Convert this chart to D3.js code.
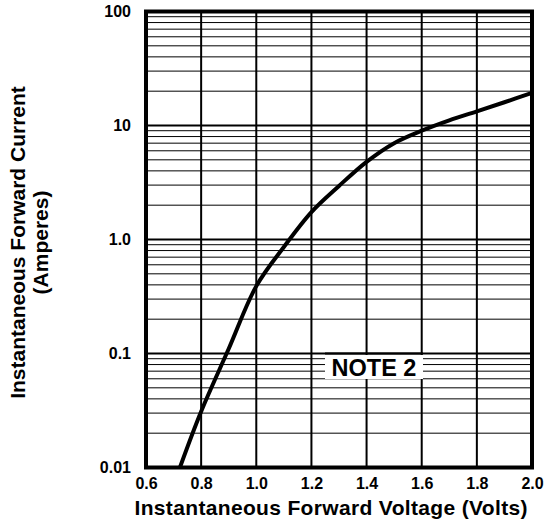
<!DOCTYPE html>
<html><head><meta charset="utf-8">
<script src="https://cdn.jsdelivr.net/npm/d3@7"></script>
<style>
html,body{margin:0;padding:0;background:#fff;}
text{font-family:"Liberation Sans",Arial,sans-serif;font-weight:bold;fill:#000;}
</style></head>
<body><svg id="c" width="544" height="525"></svg>
<script>
const voltage = [0.723, 0.8, 0.9, 1.0, 1.1, 1.2, 1.3, 1.4, 1.5, 1.6, 1.7, 1.8, 1.9, 2.0];
const current = [0.01, 0.031, 0.11, 0.39, 0.86, 1.74, 2.95, 4.8, 7.0, 9.0, 11.1, 13.3, 16.0, 19.3];
const xTicks = [0.6, 0.8, 1.0, 1.2, 1.4, 1.6, 1.8, 2.0];
const xTickLabels = ["0.6", "0.8", "1.0", "1.2", "1.4", "1.6", "1.8", "2.0"];
const yTicks = [0.01, 0.1, 1, 10, 100];
const yTickLabels = ["0.01", "0.1", "1.0", "10", "100"];
const xTitle = "Instantaneous Forward Voltage (Volts)";
const yTitle = ["Instantaneous Forward Current", "(Amperes)"];
const note = "NOTE 2";

const svg = d3.select("#c");
const L = 146, R = 532, T = 11.5, B = 467.5;
const x = d3.scaleLinear().domain([0.6, 2.0]).range([L, R]);
const y = d3.scaleLog().domain([0.01, 100]).range([B, T]);

// minor horizontal grid
const minor = [];
for (let d = 0.01; d < 100; d *= 10) {
  for (let k = 2; k <= 9; k++) minor.push(+(d * k).toPrecision(3));
}
const g = svg.append("g");
g.selectAll("line.minor").data(minor).join("line")
  .attr("x1", L).attr("x2", R)
  .attr("y1", d => y(d)).attr("y2", d => y(d))
  .attr("stroke", "#000").attr("stroke-width", 1);
g.selectAll("line.dec").data(yTicks.slice(1, -1)).join("line")
  .attr("x1", L).attr("x2", R)
  .attr("y1", d => y(d)).attr("y2", d => y(d))
  .attr("stroke", "#000").attr("stroke-width", 2);
g.selectAll("line.v").data(xTicks.slice(1, -1)).join("line")
  .attr("x1", d => x(d)).attr("x2", d => x(d))
  .attr("y1", T).attr("y2", B)
  .attr("stroke", "#000").attr("stroke-width", 2);

// note box
const nx = 374, ny = 367;
svg.append("rect").attr("x", nx - 49).attr("y", ny - 12).attr("width", 98).attr("height", 24).attr("fill", "#fff");
svg.append("line").attr("x1", nx - 49).attr("x2", nx + 49).attr("y1", y(0.1)).attr("y2", y(0.1)).attr("stroke", "#000").attr("stroke-width", 2);
svg.append("text").attr("x", nx).attr("y", ny + 8.5).attr("text-anchor", "middle").style("font-size", "23.5px").text(note);

// curve
const pts = voltage.map((v, i) => [v, current[i]]);
svg.append("path").datum(pts)
  .attr("fill", "none").attr("stroke", "#000").attr("stroke-width", 4)
  .attr("stroke-linejoin", "round")
  .attr("d", d3.line().x(d => x(d[0])).y(d => y(d[1])).curve(d3.curveCatmullRom.alpha(0.5)));

// border
svg.append("rect").attr("x", L).attr("y", T).attr("width", R - L).attr("height", B - T)
  .attr("fill", "none").attr("stroke", "#000").attr("stroke-width", 4);

// axes
const xa = svg.append("g").attr("transform", `translate(0,${B + 2})`)
  .call(d3.axisBottom(x).tickValues(xTicks).tickFormat((d, i) => xTickLabels[i]).tickSize(0).tickPadding(8));
xa.select(".domain").remove();
xa.selectAll("text").style("font-size", "16px").attr("font-family", null);
const ya = svg.append("g").attr("transform", `translate(${L - 2},0)`)
  .call(d3.axisLeft(y).tickValues(yTicks).tickFormat((d, i) => yTickLabels[i]).tickSize(0).tickPadding(13));
ya.select(".domain").remove();
ya.selectAll("text").style("font-size", "16px").attr("font-family", null);

svg.append("text").attr("x", 331).attr("y", 515).attr("text-anchor", "middle")
  .attr("textLength", 393).attr("lengthAdjust", "spacing")
  .style("font-size", "21px").text(xTitle);
const yt = svg.append("text").attr("transform", "translate(25,242.5) rotate(-90)").attr("text-anchor", "middle").style("font-size", "21px");
yt.append("tspan").attr("x", 0).attr("y", 0).text(yTitle[0]);
yt.append("tspan").attr("x", 0).attr("y", 23).text(yTitle[1]);
</script></body></html>
